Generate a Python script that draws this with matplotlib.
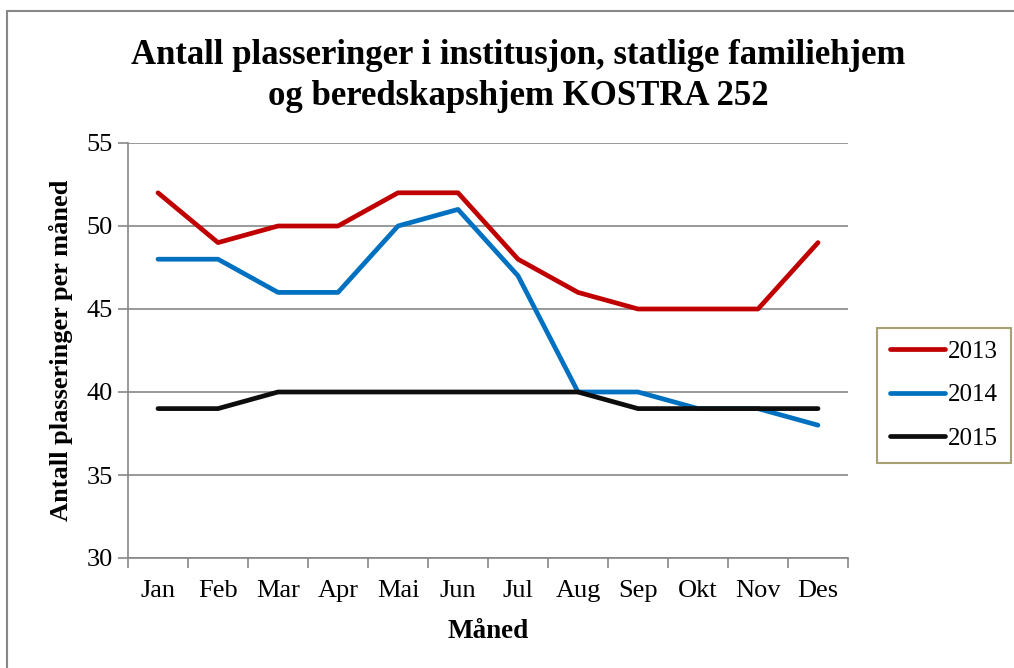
import matplotlib.pyplot as plt
from matplotlib.patches import Rectangle

plt.rcParams['font.family'] = ['Liberation Serif', 'DejaVu Serif']

months = ['Jan', 'Feb', 'Mar', 'Apr', 'Mai', 'Jun', 'Jul', 'Aug', 'Sep', 'Okt', 'Nov', 'Des']
y2013 = [52, 49, 50, 50, 52, 52, 48, 46, 45, 45, 45, 49]
y2014 = [48, 48, 46, 46, 50, 51, 47, 40, 40, 39, 39, 38]
y2015 = [39, 39, 40, 40, 40, 40, 40, 40, 39, 39, 39, 39]

W, H = 1014, 668
fig = plt.figure(figsize=(W / 100, H / 100), dpi=100)

# outer chart border (cut off at right and bottom in the original)
fig.patches.append(Rectangle((7 / W, -0.1), 1.2, 1 - 11 / H + 0.1, transform=fig.transFigure,
                             fill=False, edgecolor='#878787', linewidth=1.5))

ax = fig.add_axes([128 / W, 110 / H, 720 / W, 415 / H])
x = range(len(months))
ax.plot(x, y2013, color='#C00000', lw=3.4, label='2013', solid_capstyle='round')
ax.plot(x, y2014, color='#0070C0', lw=3.4, label='2014', solid_capstyle='round')
ax.plot(x, y2015, color='#0D0D0D', lw=3.4, label='2015', solid_capstyle='round')

ax.set_xlim(-0.5, 11.5)
ax.set_ylim(30, 55)
ax.set_yticks(range(30, 56, 5))
ax.set_xticks(x)
ax.set_xticklabels(months)
ax.set_xticks([i - 0.5 for i in range(13)], minor=True)
ax.tick_params(axis='x', which='major', length=0, pad=16, labelsize=19)
ax.tick_params(axis='x', which='minor', length=7, color='#878787', width=1.2, direction='out')
ax.tick_params(axis='y', length=7, color='#878787', width=1.2, direction='out', pad=4, labelsize=19)
ax.grid(axis='y', color='#878787', lw=1.2)
ax.set_axisbelow(True)
for s in ['top', 'right']:
    ax.spines[s].set_visible(False)
for s in ['left', 'bottom']:
    ax.spines[s].set_color('#878787')
    ax.spines[s].set_linewidth(1.2)

ax.set_xlabel('Måned', fontsize=19.5, fontweight='bold', labelpad=12)
ax.set_ylabel('Antall plasseringer per måned', fontsize=19, fontweight='bold', labelpad=10)

fig.text(518 / W, 1 - 76 / H, 'Antall plasseringer i institusjon, statlige familiehjem\nog beredskapshjem KOSTRA 252',
         ha='center', va='center', fontsize=25, fontweight='bold', linespacing=1.3)

leg = fig.legend(loc='center left', bbox_to_anchor=(877 / W, 1 - 395 / H), fontsize=18,
                 frameon=True, fancybox=False, handlelength=2.2, handletextpad=0.15,
                 labelspacing=0.85, borderpad=0.5, borderaxespad=0)
leg.get_frame().set_edgecolor('#938953')
leg.get_frame().set_linewidth(1.5)

fig.savefig('out.png', dpi=100)
